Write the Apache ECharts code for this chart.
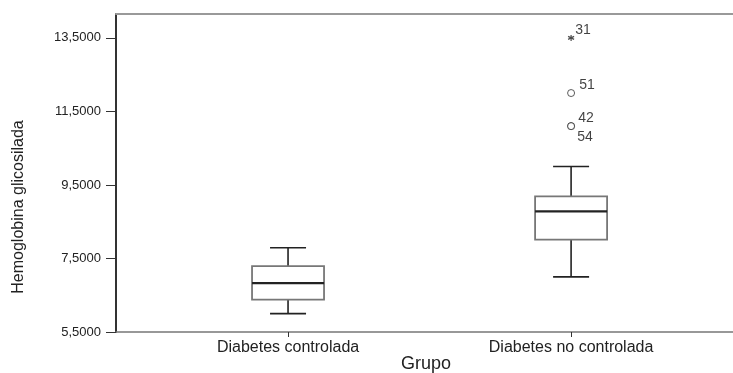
<!DOCTYPE html>
<html>
<head>
<meta charset="utf-8">
<script src="https://cdn.jsdelivr.net/npm/echarts@6/dist/echarts.min.js"></script>
<style>html,body{margin:0;padding:0;background:#fff;}#c{width:733px;height:373px;}</style>
</head>
<body>
<div id="c"></div>
<script>
// Data
var categories = ['Diabetes controlada', 'Diabetes no controlada'];
var categoryPos = [1, 2];
// [min, Q1, median, Q3, max]
var boxStats = [
  [6.0, 6.38, 6.83, 7.29, 7.79],
  [7.0, 8.01, 8.78, 9.19, 10.0]
];
var outlierValues = [12.0, 11.1, 11.1];
var outlierLabels = ['51', '42', '54'];
var extremeValues = [13.5];
var extremeLabels = ['31'];
var yTicks = [5.5, 7.5, 9.5, 11.5, 13.5];

var FONT = '"Liberation Sans", Arial, Helvetica, sans-serif';
var boxData = boxStats.map(function (s, i) { return [categoryPos[i]].concat(s); });

var chart = echarts.init(document.getElementById('c'), null, { renderer: 'canvas' });
chart.setOption({
  animation: false,
  backgroundColor: '#ffffff',
  textStyle: { fontFamily: FONT },
  grid: { left: 116, right: 0, top: 14, bottom: 41, show: false, containLabel: false, outerBoundsMode: 'none' },
  xAxis: [{
    type: 'value', min: 0.3922, max: 2.572,
    splitLine: { show: false },
    axisLine: { show: true, lineStyle: { color: '#777', width: 1.5 } },
    axisTick: { show: true, customValues: categoryPos, length: 5, lineStyle: { color: '#333', width: 1 } },
    axisLabel: {
      customValues: categoryPos, margin: 8, fontSize: 16, color: '#222', fontFamily: FONT,
      formatter: function (v) { var i = categoryPos.indexOf(v); return i >= 0 ? categories[i] : ''; }
    }
  }, {
    type: 'value', position: 'top', min: 0.3922, max: 2.572,
    splitLine: { show: false }, axisTick: { show: false }, axisLabel: { show: false },
    axisLine: { show: true, lineStyle: { color: '#999', width: 2 } }
  }],
  yAxis: {
    type: 'value', min: 5.5, max: 14.15,
    splitLine: { show: false },
    axisLine: { show: true, lineStyle: { color: '#333', width: 2 } },
    axisTick: { show: true, customValues: yTicks, length: 10, lineStyle: { color: '#333', width: 1 } },
    axisLabel: {
      customValues: yTicks, margin: 15, fontSize: 13, color: '#222', fontFamily: FONT,
      formatter: function (v) { return v.toFixed(4).replace('.', ','); }
    }
  },
  graphic: [{
    type: 'text', x: 19, y: 207, rotation: Math.PI / 2,
    style: { text: 'Hemoglobina glicosilada', fill: '#222', font: '16px ' + FONT, align: 'center', verticalAlign: 'middle' }
  }, {
    type: 'text', x: 426, y: 364,
    style: { text: 'Grupo', fill: '#222', font: '18px ' + FONT, align: 'center', verticalAlign: 'middle' }
  }],
  series: [{
    type: 'custom',
    data: boxData,
    encode: { x: 0, y: [1, 2, 3, 4, 5] },
    renderItem: function (params, api) {
      var x = api.value(0);
      var pMin = api.coord([x, api.value(1)]);
      var pQ1 = api.coord([x, api.value(2)]);
      var pMed = api.coord([x, api.value(3)]);
      var pQ3 = api.coord([x, api.value(4)]);
      var pMax = api.coord([x, api.value(5)]);
      var cx = pMed[0];
      var hw = 36, cw = 18;
      var black = { stroke: '#222', lineWidth: 1.6 };
      return {
        type: 'group',
        children: [
          { type: 'line', shape: { x1: cx, y1: pMax[1], x2: cx, y2: pQ3[1] }, style: black },
          { type: 'line', shape: { x1: cx, y1: pMin[1], x2: cx, y2: pQ1[1] }, style: black },
          { type: 'line', shape: { x1: cx - cw, y1: pMax[1], x2: cx + cw, y2: pMax[1] }, style: black },
          { type: 'line', shape: { x1: cx - cw, y1: pMin[1], x2: cx + cw, y2: pMin[1] }, style: black },
          { type: 'rect', shape: { x: cx - hw, y: pQ3[1], width: 2 * hw, height: pQ1[1] - pQ3[1] },
            style: { fill: '#fff', stroke: '#777', lineWidth: 1.8 } },
          { type: 'line', shape: { x1: cx - hw, y1: pMed[1], x2: cx + hw, y2: pMed[1] }, style: { stroke: '#222', lineWidth: 2.2 } }
        ]
      };
    }
  }, {
    type: 'scatter',
    data: outlierValues.map(function (v, i) {
      var off = outlierLabels[i] === '54' ? [14, 11] : (outlierLabels[i] === '51' ? [16, -8] : [15, -8]);
      return { value: [2, v], label: { show: true, formatter: outlierLabels[i], offset: off } };
    }),
    symbol: 'circle', symbolSize: 7,
    itemStyle: { color: '#fff', borderColor: '#333', borderWidth: 1 },
    label: { position: 'inside', fontSize: 14, color: '#111', fontFamily: FONT }
  }, {
    type: 'scatter',
    data: extremeValues.map(function (v, i) {
      return { value: [2, v], label: { show: true, formatter: extremeLabels[i], offset: [12, -8] } };
    }),
    symbol: 'path://M0,-5L0,5M-4.33,-2.5L4.33,2.5M-4.33,2.5L4.33,-2.5', symbolSize: 6,
    itemStyle: { color: 'none', borderColor: '#222', borderWidth: 1.2 },
    label: { position: 'inside', fontSize: 14, color: '#111', fontFamily: FONT }
  }]
});
</script>
</body>
</html>
